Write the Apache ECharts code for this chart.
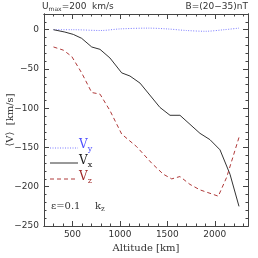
<!DOCTYPE html>
<html>
<head>
<meta charset="utf-8">
<script src="https://cdn.jsdelivr.net/npm/echarts@6/dist/echarts.min.js"></script>
<style>html,body{margin:0;padding:0;background:#fff}#c{width:258px;height:258px}</style>
</head>
<body>
<div id="c"></div>
<script>
// ---- data ----
const altVx = [300, 420, 509, 597, 703, 790, 895, 1019, 1106, 1212, 1422, 1528, 1633, 1844, 1949, 2055, 2160, 2255];
const valVx = [0, -3, -6, -11, -22, -25, -36, -55, -59, -68, -99, -109, -109, -132, -140, -153, -184, -225];
const altVz = [300, 403, 492, 597, 703, 790, 895, 1019, 1177, 1335, 1457, 1546, 1633, 1738, 1844, 2037, 2125, 2258];
const valVz = [-22, -26, -34, -55, -80, -82, -103, -133, -149, -170, -184, -190, -187, -197, -204, -212, -188, -136];
const altVy = [300, 500, 800, 1000, 1300, 1500, 1700, 1900, 2100, 2255];
const valVy = [0, 0, -1, 1, 2, 1, -1, -2, 0, 2];
const xMajor = [500, 1000, 1500, 2000];
const xMinor = [300, 400, 600, 700, 800, 900, 1100, 1200, 1300, 1400, 1600, 1700, 1800, 1900, 2100, 2200, 2300];
const yMajor = [-250, -200, -150, -100, -50, 0];
const yMinor = [-240, -230, -220, -210, -190, -180, -170, -160, -140, -130, -120, -110, -90, -80, -70, -60, -40, -30, -20, -10, 10];

const pairs = (a, b) => a.map((x, i) => [x, b[i]]);
const numFont = 'DejaVu Sans';
const txtFont = 'DejaVu Serif';
const axCol = '#444';

function xAx(pos, ticks, len, labels, extra) {
  return Object.assign({
    type: 'value', position: pos, min: 200, max: 2350,
    axisLine: { show: true, onZero: false, lineStyle: { color: axCol, width: 1 } },
    axisTick: { show: true, inside: true, length: len, customValues: ticks, lineStyle: { color: axCol } },
    axisLabel: labels ? { show: true, customValues: ticks, fontFamily: numFont, fontSize: 9, color: '#333', margin: 4,
      formatter: v => String(v) } : { show: false },
    splitLine: { show: false }
  }, extra || {});
}
function yAx(pos, ticks, len, labels, extra) {
  return Object.assign({
    type: 'value', position: pos, min: -250, max: 20,
    axisLine: { show: true, onZero: false, lineStyle: { color: axCol, width: 1 } },
    axisTick: { show: true, inside: true, length: len, customValues: ticks, lineStyle: { color: axCol } },
    axisLabel: labels ? { show: true, customValues: ticks, fontFamily: numFont, fontSize: 9, color: '#333', margin: 5,
      formatter: v => (v < 0 ? '\u2212' + Math.abs(v) : String(v)) } : { show: false },
    splitLine: { show: false }
  }, extra || {});
}

const chart = echarts.init(document.getElementById('c'), null, { renderer: 'canvas' });
chart.setOption({
  animation: false,
  backgroundColor: '#fff',
  grid: { left: 44, right: 10, top: 14, bottom: 32, containLabel: false, outerBoundsMode: 'none' },
  xAxis: [
    xAx('bottom', xMajor, 5, true, { name: 'Altitude [km]', nameLocation: 'middle', nameGap: 15,
      nameTextStyle: { fontFamily: txtFont, fontSize: 10, color: '#333' } }),
    xAx('bottom', xMinor, 2.5, false),
    xAx('top', xMajor, 5, false),
    xAx('top', xMinor, 2.5, false)
  ],
  yAxis: [
    yAx('left', yMajor, 5, true),
    yAx('left', yMinor, 2.5, false),
    yAx('right', yMajor, 5, false),
    yAx('right', yMinor, 2.5, false)
  ],
  series: [
    { name: 'Vy', type: 'line', xAxisIndex: 0, yAxisIndex: 0, data: pairs(altVy, valVy), showSymbol: false, smooth: 0.3,
      lineStyle: { color: '#7b7bff', width: 1, type: [1, 1.5] } },
    { name: 'Vx', type: 'line', xAxisIndex: 0, yAxisIndex: 0, data: pairs(altVx, valVx), showSymbol: false,
      lineStyle: { color: '#333', width: 1 } },
    { name: 'Vz', type: 'line', xAxisIndex: 0, yAxisIndex: 0, data: pairs(altVz, valVz), showSymbol: false,
      lineStyle: { color: '#b03a3a', width: 1, type: [4, 3] } }
  ],
  graphic: [
    { type: 'text', x: 10, y: 120, rotation: Math.PI / 2, style: { text: '\u27E8V\u27E9  [km/s]', fontFamily: txtFont,
      fontSize: 10, fill: '#333', align: 'center', verticalAlign: 'middle' } },
    { type: 'text', left: 42, top: 2, style: { text: '{a|U}{s|max}{a|=200  km/s}', rich: {
      a: { fontFamily: numFont, fontSize: 9, fill: '#333' }, s: { fontFamily: numFont, fontSize: 6, fill: '#333', padding: [6, 0, 0, 0] } } } },
    { type: 'text', right: 10, top: 2, style: { text: 'B=(20\u221235)nT', fontFamily: numFont, fontSize: 9, fill: '#333' } },
    { type: 'line', shape: { x1: 50, y1: 148, x2: 78, y2: 148 }, style: { stroke: '#7b7bff', lineWidth: 1, lineDash: [1, 1.5] } },
    { type: 'line', shape: { x1: 50, y1: 163, x2: 78, y2: 163 }, style: { stroke: '#333', lineWidth: 1 } },
    { type: 'line', shape: { x1: 50, y1: 179, x2: 78, y2: 179 }, style: { stroke: '#b03a3a', lineWidth: 1, lineDash: [4, 3] } },
    { type: 'text', left: 79, top: 139, style: { text: '{v|V}{s|y}', rich: {
      v: { fontFamily: txtFont, fontSize: 12, fill: '#5050ff' }, s: { fontFamily: txtFont, fontSize: 8, fill: '#5050ff', padding: [8, 0, 0, 0] } } } },
    { type: 'text', left: 79, top: 155, style: { text: '{v|V}{s|x}', rich: {
      v: { fontFamily: txtFont, fontSize: 12, fill: '#222' }, s: { fontFamily: txtFont, fontSize: 8, fill: '#222', padding: [8, 0, 0, 0] } } } },
    { type: 'text', left: 79, top: 171, style: { text: '{v|V}{s|z}', rich: {
      v: { fontFamily: txtFont, fontSize: 12, fill: '#a02828' }, s: { fontFamily: txtFont, fontSize: 8, fill: '#a02828', padding: [8, 0, 0, 0] } } } },
    { type: 'text', left: 51, top: 201, style: { text: '\u03B5=0.1', fontFamily: txtFont, fontSize: 10, fill: '#333' } },
    { type: 'text', left: 95, top: 201, style: { text: '{v|k}{s|z}', rich: {
      v: { fontFamily: txtFont, fontSize: 10, fill: '#333' }, s: { fontFamily: txtFont, fontSize: 7, fill: '#333', padding: [6, 0, 0, 0] } } } }
  ]
});
</script>
</body>
</html>
